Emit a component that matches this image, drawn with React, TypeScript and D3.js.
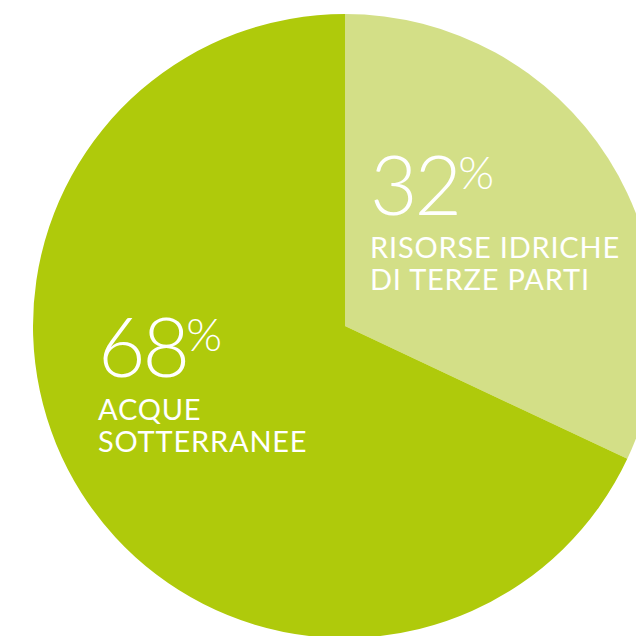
import { useMemo } from 'react';
import * as d3 from 'd3';

const LABELS = ['RISORSE IDRICHE|DI TERZE PARTI', 'ACQUE|SOTTERRANEE'];
const VALUES = [32, 68];
const COLORS = ['#D3DF87', '#AFCA0B'];

// where each label block starts, relative to the pie centre
const LABEL_OFFSETS = [
  { dx: 25, dy: -111 },
  { dx: -247, dy: 51 },
];

export default function App() {
  const width = 636;
  const height = 636;
  const cx = 345;
  const cy = 326;
  const r = 312;

  const arcs = useMemo(
    () => d3.pie<number>().sort(null).startAngle(0).endAngle(2 * Math.PI)(VALUES),
    []
  );
  const arc = d3.arc<d3.PieArcDatum<number>>().innerRadius(0).outerRadius(r);

  return (
    <svg
      width={width}
      height={height}
      viewBox={`0 0 ${width} ${height}`}
      style={{ position: 'absolute', left: 0, top: 0, background: '#fff' }}
    >
      <g transform={`translate(${cx},${cy})`}>
        {arcs.map((a, i) => (
          <path key={i} d={arc(a) ?? ''} fill={COLORS[i]} />
        ))}
        {arcs.map((a, i) => {
          const { dx, dy } = LABEL_OFFSETS[i];
          const lines = LABELS[i].split('|');
          return (
            <g key={`l${i}`} transform={`translate(${dx},${dy})`} fill="#fff" fontFamily="Lato, 'Open Sans', sans-serif">
              <text fontSize={82} fontWeight={300} x={0} y={0} letterSpacing={-3}>
                {a.data}
                <tspan fontSize={46} fontWeight={300} dy={-26} dx={-1}>%</tspan>
              </text>
              {lines.map((l, j) => (
                <text key={j} x={0} y={43 + j * 32} fontSize={29} fontWeight={400} letterSpacing={0.8}>
                  {l}
                </text>
              ))}
            </g>
          );
        })}
      </g>
    </svg>
  );
}
